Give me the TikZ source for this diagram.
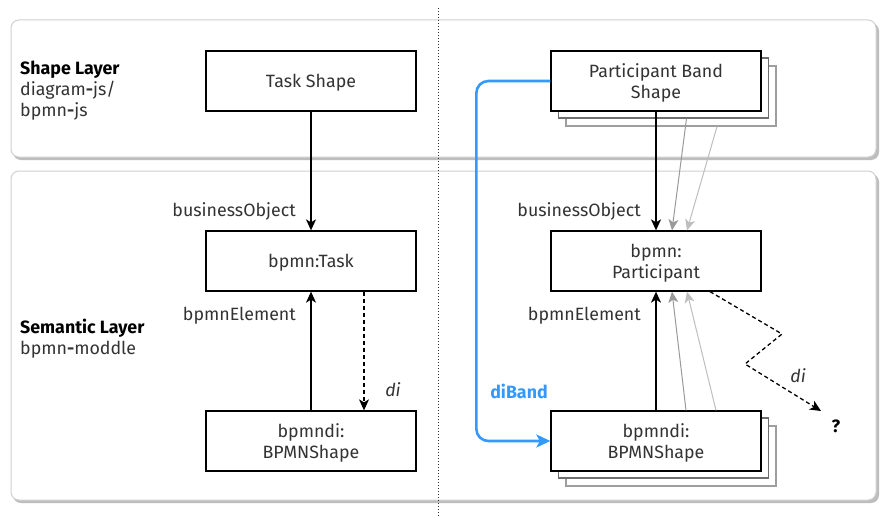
\documentclass[tikz,border=0pt]{standalone}
\usepackage{fontspec}
\setmainfont{Fira Sans}
\usetikzlibrary{arrows.meta}
\definecolor{txt}{HTML}{333333}
\definecolor{panelline}{HTML}{D0D0D0}
\definecolor{panelshadow}{HTML}{BDBDBD}
\definecolor{stackA}{HTML}{6E6E6E}
\definecolor{stackB}{HTML}{9E9E9E}
\definecolor{grayA}{HTML}{9A9A9A}
\definecolor{grayB}{HTML}{BEBEBE}
\definecolor{bandblue}{HTML}{3399FF}
\newcommand\fs{\fontsize{17.8}{21}\selectfont}
\tikzset{
  lbl/.style={font=\fs, text=txt, inner sep=0pt},
  box/.style={draw=black, fill=white, line width=1.3pt, minimum width=210pt, minimum height=60pt,
    align=center, inner sep=2pt, font=\fs, text=txt, text depth=0pt},
  stackboxA/.style={draw=stackA, fill=white, line width=1.2pt, minimum width=210pt, minimum height=60pt},
  stackboxB/.style={draw=stackB, fill=white, line width=1.2pt, minimum width=210pt, minimum height=60pt},
  conn/.style={line width=1.3pt, -{Stealth[length=11pt,width=10pt,inset=3pt]}},
  connA/.style={conn, draw=grayA, line width=1pt, color=grayA},
  connB/.style={conn, draw=grayB, line width=1pt, color=grayB},
  dashconn/.style={conn, dash pattern=on 4pt off 3pt},
  panel/.style={draw=panelline, fill=white, line width=1pt, rounded corners=8pt},
  panelsh/.style={fill=panelshadow, rounded corners=8pt},
}
\begin{document}
\begin{tikzpicture}[x=1pt,y=-1pt]
\useasboundingbox (0,0) rectangle (888,527);
\fill[white] (0,0) rectangle (888,527);

% panels
\fill[panelsh] (13,23) rectangle (879,160);
\draw[panel] (11,20) rectangle (876,157);
\fill[panelsh] (13,174) rectangle (879,503);
\draw[panel] (11,171) rectangle (876,500);

% divider
\draw[line width=1pt, dash pattern=on 1pt off 2pt, black!80] (438.5,8) -- (438.5,517);

% layer labels
\node[lbl, anchor=west, align=left] (shapelayer) at (20,91)
  {\textbf{\color{black}Shape Layer}\\diagram\textbf{-}js/\\bpmn\textbf{-}js};
\node[lbl, anchor=west, align=left] (semlayer) at (20,338.5)
  {\textbf{\color{black}Semantic Layer}\\bpmn\textbf{-}moddle};

% left column
\node[box] (ts) at (311,81) {Task Shape};
\node[box] (task) at (311,261) {bpmn:Task};
\node[box] (bs1) at (311,441) {bpmndi:\\BPMNShape};

\draw[conn] (ts.south) -- (task.north);
\draw[conn] (bs1.north) -- (task.south);
\draw[dashconn] ([xshift=53pt]task.south) -- ([xshift=53pt]bs1.north);

\node[lbl, anchor=east] (bo1) at (296,211) {businessObject};
\node[lbl, anchor=east] (be1) at (296,316) {bpmnElement};
\node[lbl, font=\fs\itshape] (di1) at (393,390) {di};

% right column
\node[stackboxB] (pbC) at (671,96) {};
\node[stackboxA] (pbB) at (663.5,88) {};
\node[box] (pb) at (656,81) {Participant Band\\Shape};
\node[box] (part) at (656,261) {bpmn:\\Participant};
\node[stackboxB] (bsC) at (671,456) {};
\node[stackboxA] (bsB) at (663.5,448) {};
\node[box] (bs2) at (656,441) {bpmndi:\\BPMNShape};

\draw[conn] (pb.south) -- (part.north);
\draw[connA] ([xshift=23pt]pbB.south) -- ([xshift=16pt]part.north);
\draw[connB] ([xshift=46pt]pbC.south) -- ([xshift=31pt]part.north);

\draw[conn] (bs2.north) -- (part.south);
\draw[connA] ([xshift=30pt]bs2.north) -- ([xshift=16pt]part.south);
\draw[connB] ([xshift=60pt]bs2.north) -- ([xshift=31pt]part.south);

\node[lbl, anchor=east] (bo2) at (641,211) {businessObject};
\node[lbl, anchor=east] (be2) at (641,316) {bpmnElement};

% blue diBand
\draw[draw=bandblue, line width=2.6pt, rounded corners=12pt,
      -{Stealth[length=14pt,width=13pt,inset=3.5pt]}, color=bandblue]
  (pb.west) -- ++(-74,0) |- (bs2.west);
\node[lbl, font=\fs\bfseries, text=bandblue] (diband) at (519,391) {diBand};

% dashed di to ?
\coordinate (diend) at (821,411);
\draw[dashconn] ([xshift=54pt]part.south) -- (782,334) -- (745,364) -- (diend);
\node[lbl, font=\fs\itshape] (di2) at (798,376) {di};
\node[lbl, font=\fs\bfseries, text=black] (q) at (836,426) {?};
\end{tikzpicture}
\end{document}
